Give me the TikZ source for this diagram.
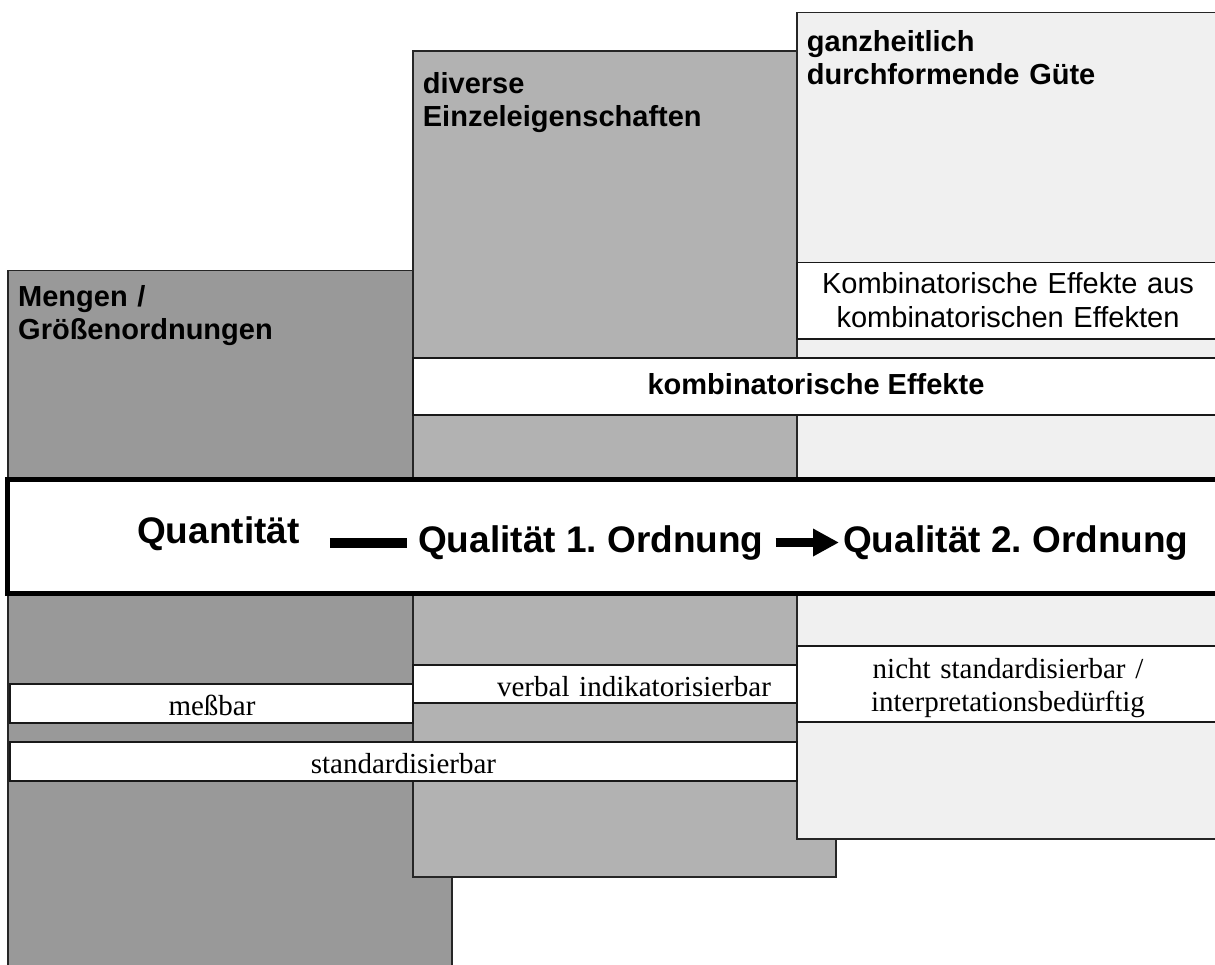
\documentclass[tikz,border=0pt]{standalone}
\usepackage{fontspec}
\setmainfont{Liberation Serif}
\setsansfont{Liberation Sans}
\usetikzlibrary{arrows.meta}
\definecolor{gA}{HTML}{999999}
\definecolor{gB}{HTML}{B2B2B2}
\definecolor{gC}{HTML}{F0F0F0}
\frenchspacing
\begin{document}
\begin{tikzpicture}[x=1pt,y=-1pt,
  panel/.style={draw=black!85, line width=1.5pt},
  whitebar/.style={draw=black!90, fill=white, line width=1.5pt},
  head/.style={font=\sffamily\bfseries\fontsize{29}{33}\selectfont, inner sep=0pt, anchor=base west, text width=420pt, align=left},
  sanslab/.style={font=\sffamily\fontsize{29}{34}\selectfont, inner sep=0pt, anchor=base, text width=410pt, align=center},
  seriflab/.style={font=\rmfamily\fontsize{29}{33}\selectfont, inner sep=0pt, anchor=base, text width=410pt, align=center},
  big/.style={font=\sffamily\bfseries\fontsize{37}{40}\selectfont, inner sep=0pt, anchor=base west},
  connbar/.style={line width=10pt},
  connarrow/.style={line width=9pt, -{Triangle[length=26pt,width=26pt]}}
]
\useasboundingbox (0,0) rectangle (1215,965);
\clip (0,0) rectangle (1215,965);
% panels
\draw[panel, fill=gA] (8,270.7) rectangle (452,990);
\draw[panel, fill=gB] (413,51) rectangle (836,877);
\draw[panel, fill=gC] (797,12.7) rectangle (1230,839);
% white bars
\draw[whitebar] (797,262.7) rectangle (1230,339);
\draw[whitebar] (413,358) rectangle (1230,415);
\draw[whitebar, line width=5pt, draw=black] (7.5,479.5) rectangle (1230,593.5);
\draw[whitebar] (797,646) rectangle (1230,722);
\draw[whitebar] (413,665) rectangle (797,703);
\draw[whitebar] (10,684) rectangle (413,723);
\draw[whitebar] (10,742) rectangle (797,781);
% headings
\node[head] (mengen) at (18,306.7) {Mengen /\\Größenordnungen};
\node[head] (diverse) at (422.7,94) {diverse\\Einzeleigenschaften};
\node[head] (ganz) at (806.7,52) {ganzheitlich\\durchformende Güte};
% labels
\node[sanslab] (kombaus) at (1008,294) {Kombinatorische Effekte aus\\kombinatorischen Effekten};
\node[font=\sffamily\bfseries\fontsize{29}{33}\selectfont, inner sep=0pt, anchor=base] (kombeff) at (816,395) {kombinatorische Effekte};
\node[seriflab] (nicht) at (1008,678) {nicht standardisierbar /\\interpretationsbedürftig};
\node[seriflab] (verbal) at (634,696) {verbal indikatorisierbar};
\node[seriflab] (messbar) at (212,715) {meßbar};
\node[seriflab] (standard) at (403.5,773) {standardisierbar};
% main line
\node[big] (quant) at (137,543) {Quantität};
\node[big] (q1) at (418,552) {Qualität 1. Ordnung};
\node[big] (q2) at (843,552) {Qualität 2. Ordnung};
\draw[connbar, shorten <=30pt, shorten >=11pt] (quant.east |- q1.west) -- (q1.west);
\draw[connarrow, shorten <=12pt, shorten >=4pt] (q1.east) -- (q2.west);
\end{tikzpicture}
\end{document}
